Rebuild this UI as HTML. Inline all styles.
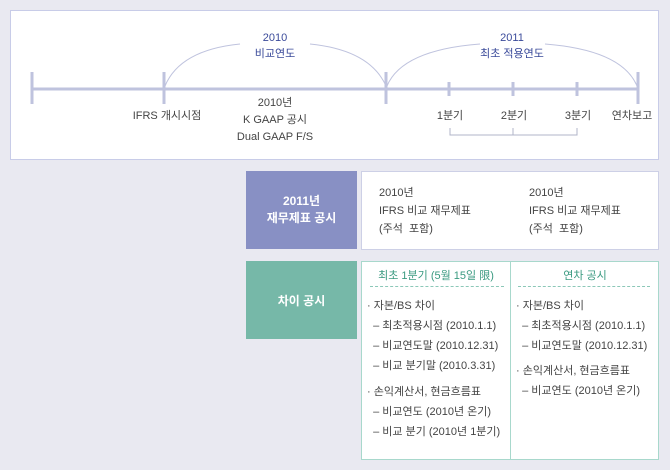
<!DOCTYPE html>
<html><head><meta charset="utf-8"><style>
body{margin:0;width:670px;height:470px;background:#e9e9f1;font-family:"Liberation Sans","Noto Sans CJK KR",sans-serif;position:relative;overflow:hidden;color:#444}
.a{position:absolute;white-space:nowrap}
.c{transform:translateX(-50%);text-align:center}
.t{font-size:11px}
</style></head><body>
<div class="a" style="left:10px;top:10px;width:647px;height:148px;background:#fff;border:1px solid #c8cce8"></div>
<svg class="a" style="left:0;top:0" width="670" height="165">
<g stroke="#bfc3de" fill="none" stroke-width="1">
<path d="M165,86 Q180,50 240,44"/><path d="M310,44 Q370,50 386,86"/>
<path d="M387,86 Q402,50 480,44"/><path d="M545,44 Q622,50 637,86"/>
<path d="M450,128 V135 H577 V128 M513,128 V135" stroke="#b0b4c8"/>
</g>
<g stroke="#bfc3de" stroke-width="3">
<line x1="32" y1="89" x2="638" y2="89"/>
<line x1="32" y1="72" x2="32" y2="104"/><line x1="164" y1="72" x2="164" y2="104"/>
<line x1="386" y1="72" x2="386" y2="104"/><line x1="638" y1="72" x2="638" y2="104"/>
<line x1="449" y1="82" x2="449" y2="96"/><line x1="513" y1="82" x2="513" y2="96"/><line x1="577" y1="82" x2="577" y2="96"/>
</g></svg>
<div class="a c t" style="left:275px;top:30px;color:#3a4a9a;line-height:16px">2010<br>비교연도</div>
<div class="a c t" style="left:512px;top:30px;color:#3a4a9a;line-height:16px">2011<br>최초 적용연도</div>
<div class="a c t" style="left:167px;top:107px">IFRS 개시시점</div>
<div class="a c t" style="left:275px;top:95px;line-height:17px">2010년<br>K GAAP 공시<br>Dual GAAP F/S</div>
<div class="a c t" style="left:450px;top:107px">1분기</div>
<div class="a c t" style="left:514px;top:107px">2분기</div>
<div class="a c t" style="left:578px;top:107px">3분기</div>
<div class="a c t" style="left:632px;top:107px">연차보고</div>

<div class="a" style="left:246px;top:171px;width:111px;height:78px;background:#8890c4;color:#fff;font-size:12px;font-weight:bold;text-align:center;line-height:17px;display:flex;align-items:center;justify-content:center">2011년<br>재무제표 공시</div>
<div class="a" style="left:361px;top:171px;width:296px;height:77px;background:#fff;border:1px solid #cdd0e6"></div>
<div class="a t" style="left:379px;top:184px;line-height:18px">2010년<br>IFRS 비교 재무제표<br>(주석&nbsp; 포함)</div>
<div class="a t" style="left:529px;top:184px;line-height:18px">2010년<br>IFRS 비교 재무제표<br>(주석&nbsp; 포함)</div>

<div class="a" style="left:246px;top:261px;width:111px;height:78px;background:#76b8a8;color:#fff;font-size:12px;font-weight:bold;display:flex;align-items:center;justify-content:center">차이 공시</div>
<div class="a" style="left:361px;top:261px;width:296px;height:197px;background:#fff;border:1px solid #a8d8cc"></div>
<div class="a" style="left:510px;top:261px;width:1px;height:199px;background:#a8d8cc"></div>
<div class="a" style="left:370px;top:286px;width:134px;border-top:1px dashed #8cc8b8"></div>
<div class="a" style="left:518px;top:286px;width:132px;border-top:1px dashed #8cc8b8"></div>
<div class="a c t" style="left:436px;top:267px;color:#3a9a80">최초 1분기 (5월 15일 限)</div>
<div class="a c t" style="left:585px;top:267px;color:#3a9a80">연차 공시</div>
<div class="a t" style="left:367px;top:296px;line-height:20px">· 자본/BS 차이<br>&nbsp; – 최초적용시점 (2010.1.1)<br>&nbsp; – 비교연도말 (2010.12.31)<br>&nbsp; – 비교 분기말 (2010.3.31)</div>
<div class="a t" style="left:367px;top:382px;line-height:20px">· 손익계산서, 현금흐름표<br>&nbsp; – 비교연도 (2010년 온기)<br>&nbsp; – 비교 분기 (2010년 1분기)</div>
<div class="a t" style="left:516px;top:296px;line-height:20px">· 자본/BS 차이<br>&nbsp; – 최초적용시점 (2010.1.1)<br>&nbsp; – 비교연도말 (2010.12.31)</div>
<div class="a t" style="left:516px;top:361px;line-height:20px">· 손익계산서, 현금흐름표<br>&nbsp; – 비교연도 (2010년 온기)</div>
</body></html>
